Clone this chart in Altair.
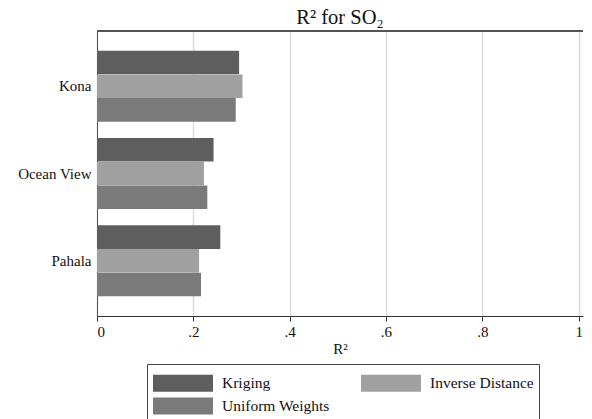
import altair as alt
import pandas as pd

sites = ["Kona", "Ocean View", "Pahala"]
methods = ["Kriging", "Inverse Distance", "Uniform Weights"]
kriging = [0.295, 0.242, 0.256]
inverse_distance = [0.302, 0.222, 0.212]
uniform_weights = [0.288, 0.229, 0.216]
colors = ["#5e5e5e", "#a0a0a0", "#7a7a7a"]

rows = []
for i, s in enumerate(sites):
    for m, vals in zip(methods, [kriging, inverse_distance, uniform_weights]):
        rows.append({"site": s, "method": m, "r2": vals[i]})
df = pd.DataFrame(rows)

FONT = "Liberation Serif"
W = 486
XMAX = 1.009

bars = alt.Chart(df).mark_bar(size=23.6).encode(
    x=alt.X("r2:Q", title="R²",
            scale=alt.Scale(domain=[0, XMAX], nice=False, zero=True),
            axis=alt.Axis(values=[0, 0.2, 0.4, 0.6, 0.8, 1.0],
                          labelExpr="datum.value == 0 ? '0' : datum.value == 1 ? '1' : replace(format(datum.value, '.1f'), '0.', '.')",
                          grid=True, gridColor="#dcdcdc", gridWidth=1.5,
                          domainColor="#333", tickColor="#333", tickSize=5,
                          labelFont=FONT, labelFontSize=15, labelColor="#111",
                          titleFont=FONT, titleFontSize=15, titleFontWeight="normal",
                          titleColor="#111", titlePadding=2, labelPadding=3)),
    y=alt.Y("site:N", title=None, sort=sites,
            scale=alt.Scale(paddingInner=0.185, paddingOuter=0.225),
            axis=alt.Axis(ticks=False, domainColor="#555", labelFont=FONT,
                          labelFontSize=15, labelColor="#111", labelPadding=6)),
    yOffset=alt.YOffset("method:N", sort=methods),
    color=alt.Color("method:N", sort=methods,
                    scale=alt.Scale(domain=methods, range=colors),
                    legend=alt.Legend(
                        title=None, orient="none", legendX=50, legendY=333,
                        direction="horizontal",
                        columns=2, columnPadding=30, rowPadding=0,
                        symbolType="M-2.143,-0.607L2.143,-0.607L2.143,0.607L-2.143,0.607Z",
                        symbolSize=784, symbolStrokeWidth=0, symbolOpacity=1,
                        symbolOffset=17, labelOffset=25,
                        labelFont=FONT, labelFontSize=15.5,
                        labelColor="#111", padding=5, strokeColor="#444",
                        labelLimit=300)),
)

top_line = alt.Chart(df).mark_rule(color="#555", strokeWidth=1).encode(
    y=alt.value(0), x=alt.value(0), x2=alt.value(W)
)

chart = alt.layer(bars, top_line).properties(
    width=W, height=285,
    padding={"left": 9, "top": 0, "right": 0, "bottom": 0},
    title=alt.TitleParams("R² for SO₂", font=FONT, fontSize=20.5,
                          fontWeight="normal", color="#111", offset=2),
).configure_view(stroke=None)

chart.save("out.html", embed_options={"renderer": "svg", "actions": False})
